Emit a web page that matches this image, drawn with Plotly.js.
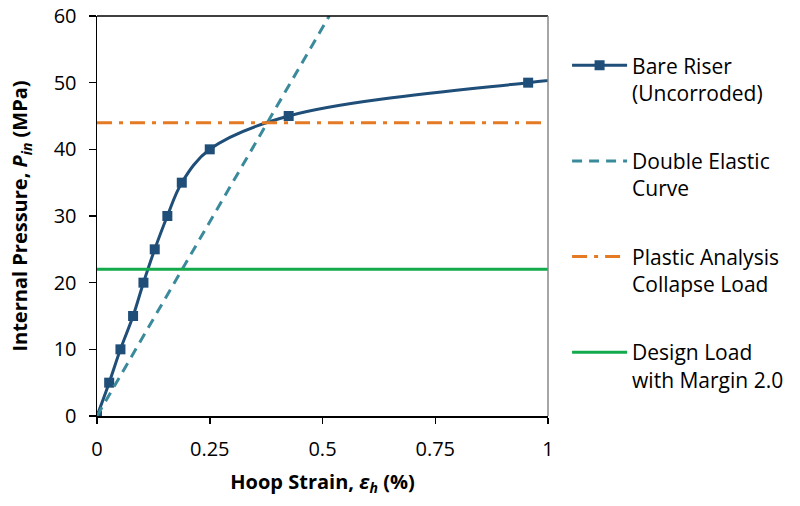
<!DOCTYPE html>
<html>
<head>
<meta charset="utf-8">
<script src="https://cdn.plot.ly/plotly-3.0.1.min.js"></script>
<style>html,body{margin:0;padding:0;background:#fff;}#chart{width:800px;height:506px;}</style>
</head>
<body>
<div id="chart"></div>
<script>
// Bare riser (uncorroded) measured points
const bareStrain = [0, 0.027, 0.052, 0.080, 0.103, 0.128, 0.156, 0.188, 0.250, 0.425, 0.956, 1.2];
const barePressure = [0, 5, 10, 15, 20, 25, 30, 35, 40, 45, 50, 51.4];
// Double elastic curve
const elasticStrain = [0, 0.515];
const elasticPressure = [0, 60];
// Horizontal reference loads
const loadStrain = [0, 1];
const collapseLoad = [44, 44];
const designLoad = [22, 22];
const xTicks = [0, 0.25, 0.5, 0.75, 1];
const xTickText = ['0', '0.25', '0.5', '0.75', '1'];
const yTicks = [0, 10, 20, 30, 40, 50, 60];

const FONT = '"Open Sans", Lato, sans-serif';

const traces = [
  {x: bareStrain, y: barePressure, type: 'scatter', mode: 'lines+markers',
   name: 'Bare Riser<br>(Uncorroded)', legendgroup: 'a',
   line: {color: '#1F4E79', width: 3, shape: 'spline', smoothing: 1},
   marker: {symbol: 'square', size: 10, color: '#1F4E79'}},
  {x: elasticStrain, y: elasticPressure, type: 'scatter', mode: 'lines',
   name: 'Double Elastic<br>Curve', legendgroup: 'b',
   line: {color: '#3A8A9B', width: 3, dash: '10px,7px'}},
  {x: loadStrain, y: collapseLoad, type: 'scatter', mode: 'lines',
   name: 'Plastic Analysis<br>Collapse Load', legendgroup: 'c',
   line: {color: '#E57A25', width: 3, dash: '15px,7px,4px,7px'}},
  {x: loadStrain, y: designLoad, type: 'scatter', mode: 'lines',
   name: 'Design Load<br>with Margin 2.0', legendgroup: 'd',
   line: {color: '#12AA4B', width: 3}}
];

const layout = {
  width: 800, height: 506,
  margin: {l: 97, r: 251, t: 16, b: 90},
  paper_bgcolor: '#fff', plot_bgcolor: '#fff',
  font: {family: FONT, size: 20, color: '#000'},
  showlegend: true,
  legend: {x: 1.04, y: 0.927, xanchor: 'left', yanchor: 'top',
    font: {family: FONT, size: 21, color: '#000'},
    valign: 'top', traceorder: 'grouped', tracegroupgap: 38, itemwidth: 55,
    bgcolor: 'rgba(0,0,0,0)'},
  xaxis: {range: [0, 1], tickvals: xTicks, ticktext: xTickText,
    showgrid: false, zeroline: false, showline: true, linecolor: '#000', linewidth: 1.5,
    ticks: 'outside', ticklen: 6, tickcolor: '#000', tickwidth: 1.5, ticklabelstandoff: 8,
    tickfont: {family: FONT, size: 20, color: '#000'},
    title: {text: '<b>Hoop Strain, <i>ε<sub>h</sub></i> (%)</b>', font: {family: FONT, size: 20, color: '#000'}, standoff: 14}},
  yaxis: {range: [0, 60], tickvals: yTicks,
    showgrid: false, zeroline: false, showline: true, linecolor: '#000', linewidth: 1.5,
    ticks: 'outside', ticklen: 7, tickcolor: '#000', tickwidth: 1.5, ticklabelstandoff: 8,
    tickfont: {family: FONT, size: 20, color: '#000'},
    title: {text: '<b>Internal Pressure, <i>P<sub>in</sub></i> (MPa)</b>', font: {family: FONT, size: 20, color: '#000'}, standoff: 20}},
  shapes: [
    {type: 'line', xref: 'paper', yref: 'paper', x0: 0, x1: 1, y0: 1, y1: 1, line: {color: '#000', width: 1.5}},
    {type: 'line', xref: 'paper', yref: 'paper', x0: 1, x1: 1, y0: 0, y1: 1, line: {color: '#888', width: 1.5}}
  ]
};

Plotly.newPlot('chart', traces, layout, {displayModeBar: false, staticPlot: true});
</script>
</body>
</html>
